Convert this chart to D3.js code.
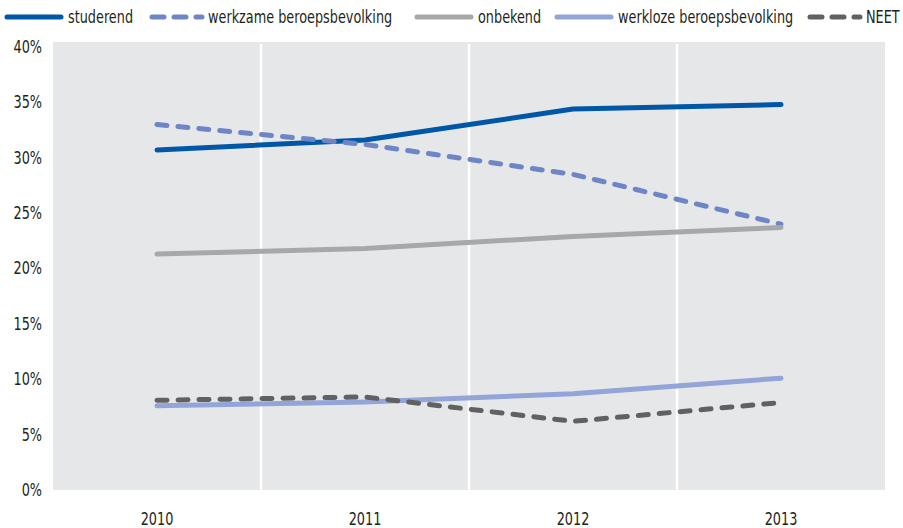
<!DOCTYPE html>
<html>
<head>
<meta charset="utf-8">
<script src="https://cdn.jsdelivr.net/npm/d3@7"></script>
<style>
  body { margin: 0; background: #fff; }
  svg text { font-family: "DejaVu Sans Condensed", "Liberation Sans Narrow", sans-serif; font-stretch: condensed; fill: #231f20; }
</style>
</head>
<body>
<svg id="chart"></svg>
<script>
// Data
const years = ["2010", "2011", "2012", "2013"];
const studerend = [30.7, 31.6, 34.4, 34.8];
const werkzame = [33.0, 31.2, 28.5, 24.0];
const onbekend = [21.3, 21.8, 22.9, 23.7];
const werkloze = [7.6, 7.95, 8.7, 10.1];
const neet = [8.1, 8.4, 6.2, 7.9];
const yTicks = [0, 5, 10, 15, 20, 25, 30, 35, 40];

const series = [
  { name: "studerend", values: studerend, color: "#0057a8", dash: null },
  { name: "werkzame beroepsbevolking", values: werkzame, color: "#6f86c6", dash: "10,11" },
  { name: "onbekend", values: onbekend, color: "#a7a8aa", dash: null },
  { name: "werkloze beroepsbevolking", values: werkloze, color: "#93a4d8", dash: null },
  { name: "NEET", values: neet, color: "#616161", dash: "10,11" }
];

const width = 903, height = 528;
const plot = { left: 53, right: 885, top: 42, bottom: 490 };
const squeeze = 0.84; // narrow the font to mimic a condensed face

const svg = d3.select("#chart").attr("width", width).attr("height", height);

const x = d3.scaleBand().domain(years).range([plot.left, plot.right]);
const y = d3.scaleLinear().domain([0, 40]).range([490, 47]);

// Plot background
svg.append("rect")
  .attr("x", plot.left).attr("y", plot.top)
  .attr("width", plot.right - plot.left).attr("height", plot.bottom - plot.top)
  .attr("fill", "#e6e7e9");

// White separators between categories
svg.selectAll("line.grid")
  .data(years.slice(1))
  .enter().append("line")
  .attr("class", "grid")
  .attr("x1", d => x(d)).attr("x2", d => x(d))
  .attr("y1", plot.top + 2).attr("y2", plot.bottom)
  .attr("stroke", "#fff").attr("stroke-width", 2.5);

// Y axis labels
svg.selectAll("text.ylab")
  .data(yTicks)
  .enter().append("text")
  .attr("class", "ylab")
  .attr("transform", d => `translate(42,${y(d)}) scale(${squeeze},1)`)
  .attr("dy", "0.35em")
  .attr("text-anchor", "end")
  .attr("font-size", 17)
  .text(d => d + "%");

// X axis labels
svg.selectAll("text.xlab")
  .data(years)
  .enter().append("text")
  .attr("class", "xlab")
  .attr("transform", d => `translate(${x(d) + x.bandwidth() / 2},519) scale(${squeeze},1)`)
  .attr("dy", "0.35em")
  .attr("text-anchor", "middle")
  .attr("font-size", 17)
  .text(d => d);

// Lines
const line = d3.line()
  .x((d, i) => x(years[i]) + x.bandwidth() / 2)
  .y(d => y(d));

svg.selectAll("path.series")
  .data(series)
  .enter().append("path")
  .attr("class", "series")
  .attr("d", d => line(d.values))
  .attr("fill", "none")
  .attr("stroke", d => d.color)
  .attr("stroke-width", 5)
  .attr("stroke-linecap", "round")
  .attr("stroke-linejoin", "round")
  .attr("stroke-dasharray", d => d.dash);

// Legend
const legendPos = [5, 150, 415, 555, 808];
const legend = svg.selectAll("g.legend")
  .data(series)
  .enter().append("g")
  .attr("class", "legend")
  .attr("transform", (d, i) => `translate(${legendPos[i]},17)`);

legend.append("line")
  .attr("x1", 2).attr("x2", d => d.dash ? 52 : 56)
  .attr("stroke", d => d.color)
  .attr("stroke-width", 5)
  .attr("stroke-linecap", "round")
  .attr("stroke-dasharray", d => d.dash ? "12,10" : null);

legend.append("text")
  .attr("transform", d => `translate(${d.dash ? 58 : 63},0) scale(${squeeze},1)`)
  .attr("dy", "0.35em")
  .attr("font-size", 17)
  .text(d => d.name);
</script>
</body>
</html>
